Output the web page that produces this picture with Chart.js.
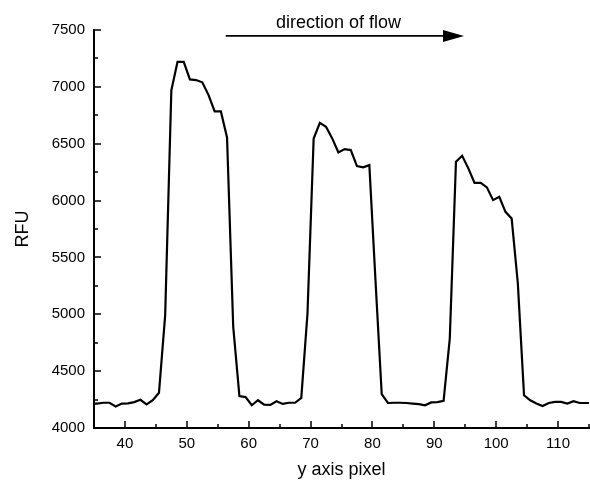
<!DOCTYPE html>
<html>
<head>
<meta charset="utf-8">
<script src="https://cdn.jsdelivr.net/npm/chart.js@4.4.0/dist/chart.umd.min.js"></script>
<style>
  html, body { margin: 0; padding: 0; background: #fff; }
  #wrap { width: 590px; height: 481px; }
</style>
</head>
<body>
<div id="wrap"><canvas id="flowChart" width="590" height="481"></canvas></div>
<script>
// pixel position along the channel (y axis pixel)
const pixelPos = [
  34.5, 35.5, 36.5, 37.5, 38.5, 39.5, 40.5, 41.5, 42.5, 43.5,
  44.5, 45.5, 46.5, 47.5, 48.5, 49.5, 50.5, 51.5, 52.5, 53.5,
  54.5, 55.5, 56.5, 57.5, 58.5, 59.5, 60.5, 61.5, 62.5, 63.5,
  64.5, 65.5, 66.5, 67.5, 68.5, 69.5, 70.5, 71.5, 72.5, 73.5,
  74.5, 75.5, 76.5, 77.5, 78.5, 79.5, 80.5, 81.5, 82.5, 83.5,
  84.5, 85.5, 86.5, 87.5, 88.5, 89.5, 90.5, 91.5, 92.5, 93.5,
  94.5, 95.5, 96.5, 97.5, 98.5, 99.5, 100.5, 101.5, 102.5, 103.5,
  104.5, 105.5, 106.5, 107.5, 108.5, 109.5, 110.5, 111.5, 112.5, 113.5,
  114.5, 115.5
]

// fluorescence (RFU)
const rfu = [
  4212, 4215, 4222, 4222, 4190, 4215, 4217, 4228, 4248, 4208,
  4245, 4310, 4990, 6970, 7220, 7220, 7065, 7060, 7040, 6930,
  6785, 6785, 6555, 4890, 4280, 4272, 4200, 4244, 4205, 4203,
  4235, 4212, 4222, 4222, 4265, 5005, 6546, 6684, 6649, 6547,
  6424, 6453, 6444, 6303, 6292, 6312, 5290, 4297, 4220, 4222,
  4222, 4220, 4215, 4210, 4200, 4225, 4228, 4238, 4787, 6341,
  6394, 6283, 6156, 6156, 6116, 6004, 6033, 5901, 5843, 5271,
  4288, 4244, 4215, 4194, 4220, 4229, 4229, 4215, 4235, 4220,
  4220, 4220
]

const xTickValues = [40, 50, 60, 70, 80, 90, 100, 110]
const yTickValues = [4000, 4500, 5000, 5500, 6000, 6500, 7000, 7500]

// the "direction of flow" arrow, in data units
const arrowFrom = 56.3
const arrowTo = 94.8
const arrowLevel = 7448
const arrowLabel = 'direction of flow'
const arrowLabelPos = [74.5, 7518]

const FONT = "'Liberation Sans', Arial, sans-serif"

// inward major/minor ticks like the original plot
const inwardTicks = {
  id: 'inwardTicks',
  afterDraw(chart) {
    const {ctx, chartArea, scales} = chart
    const x = scales.x, y = scales.y
    ctx.save()
    ctx.strokeStyle = '#000'
    ctx.lineWidth = 1.5
    ctx.beginPath()
    for (let v = x.min; v <= x.max; v += 5) {
      const px = Math.round(x.getPixelForValue(v))
      const len = v % 10 === 0 ? 7 : 4
      ctx.moveTo(px, chartArea.bottom)
      ctx.lineTo(px, chartArea.bottom - len)
    }
    for (let v = y.min; v <= y.max; v += 250) {
      const py = Math.round(y.getPixelForValue(v))
      const len = v % 500 === 0 ? 7 : 4
      ctx.moveTo(chartArea.left, py)
      ctx.lineTo(chartArea.left + len, py)
    }
    ctx.stroke()

    // arrow
    const ax1 = x.getPixelForValue(arrowFrom)
    const ax2 = x.getPixelForValue(arrowTo)
    const ay = y.getPixelForValue(arrowLevel)
    ctx.lineWidth = 1.6
    ctx.beginPath()
    ctx.moveTo(ax1, ay)
    ctx.lineTo(ax2 - 18, ay)
    ctx.stroke()
    ctx.fillStyle = '#000'
    ctx.beginPath()
    ctx.moveTo(ax2, ay)
    ctx.lineTo(ax2 - 21, ay - 6)
    ctx.lineTo(ax2 - 21, ay + 6)
    ctx.closePath()
    ctx.fill()

    ctx.font = '18px ' + FONT
    ctx.textAlign = 'center'
    ctx.textBaseline = 'alphabetic'
    ctx.fillText(arrowLabel, x.getPixelForValue(arrowLabelPos[0]), y.getPixelForValue(arrowLabelPos[1]))
    ctx.restore()
  }
}

new Chart(document.getElementById('flowChart'), {
  type: 'line',
  data: {
    datasets: [{
      data: pixelPos.map((p, i) => ({x: p, y: rfu[i]})),
      borderColor: '#000',
      borderWidth: 2.2,
      pointRadius: 0,
      tension: 0,
      fill: false
    }]
  },
  options: {
    responsive: false,
    animation: false,
    events: [],
    layout: { padding: { top: 30, right: 1, left: 0, bottom: 0 } },
    plugins: { legend: { display: false }, tooltip: { enabled: false } },
    scales: {
      x: {
        type: 'linear',
        min: 35,
        max: 115,
        afterFit: (s) => { s.height = 53 },
        afterBuildTicks: (s) => { s.ticks = xTickValues.map(v => ({value: v})) },
        grid: { drawOnChartArea: false, drawTicks: false },
        border: { color: '#000', width: 2 },
        ticks: { color: '#000', padding: 7, font: { family: FONT, size: 15 }, callback: (v) => String(v) },
        title: {
          display: true,
          text: 'y axis pixel',
          color: '#000',
          padding: 0,
          font: { family: FONT, size: 18 }
        }
      },
      y: {
        min: 4000,
        max: 7500,
        afterFit: (s) => { s.width = 94 },
        afterBuildTicks: (s) => { s.ticks = yTickValues.map(v => ({value: v})) },
        grid: { drawOnChartArea: false, drawTicks: false },
        border: { color: '#000', width: 2 },
        ticks: { color: '#000', padding: 9, font: { family: FONT, size: 15 }, callback: (v) => String(v) },
        title: {
          display: true,
          text: 'RFU',
          color: '#000',
          padding: { top: 12 },
          font: { family: FONT, size: 18 }
        }
      }
    }
  },
  plugins: [inwardTicks]
})
</script>
</body>
</html>
